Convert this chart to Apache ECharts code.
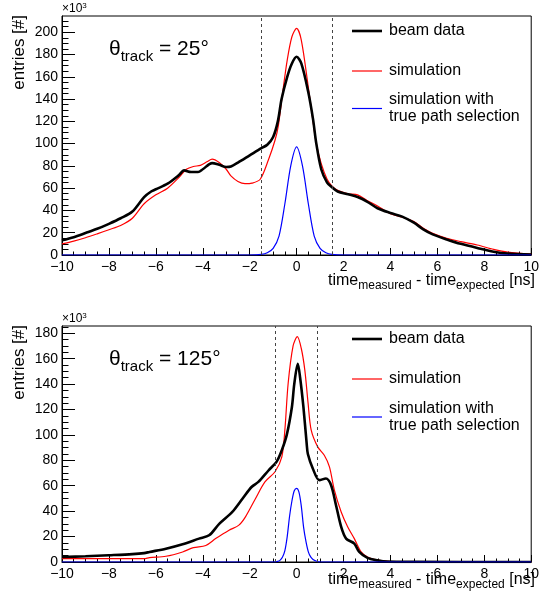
<!DOCTYPE html>
<html>
<head>
<meta charset="utf-8">
<script src="https://cdn.jsdelivr.net/npm/echarts@6/dist/echarts.min.js"></script>
<style>
  html, body { margin: 0; padding: 0; background: #fff; }
  #main { width: 542px; height: 601px; }
</style>
</head>
<body>
<div id="main"></div>
<script>
const FONT = '"Liberation Sans", Arial, Helvetica, sans-serif';

// x ticks (ns)
const xTicks = [-10, -8, -6, -4, -2, 0, 2, 4, 6, 8, 10];
// y tick labels (x10^3 entries)
const yTicksTop = [0, 20, 40, 60, 80, 100, 120, 140, 160, 180, 200];
const yTicksBot = [0, 20, 40, 60, 80, 100, 120, 140, 160, 180];
const yMaxTop = 214.6;
const yMaxBot = 185.7;

// cut window (dashed lines)
const cutTop = [-1.5, 1.5];
const cutBot = [-0.9, 0.88];

// theta_track = 25 deg
const beamTop = [[-10,13.2],[-9.5,16],[-9,19.7],[-8.5,23.5],[-8,28],[-7.5,33],[-7,39],[-6.5,52],[-6.2,57],[-6,59],
  [-5.5,64],[-5,72],[-4.8,76],[-4.5,74.5],[-4.2,74.5],[-4,77],[-3.6,82.5],[-3.3,81],[-3,79],[-2.8,79.5],
  [-2.5,83],[-2,89.5],[-1.5,96],[-1.25,99],[-1,106],[-0.8,120],[-0.64,140],[-0.4,160],[-0.2,172],[0,178],
  [0.2,172],[0.49,147],[0.7,122],[0.84,100],[1.05,77],[1.3,65],[1.5,61],[1.75,57],[2.2,54.5],[2.6,52],
  [3,48],[3.45,42],[4,37.7],[4.5,34.5],[5,29],[5.4,23],[5.8,18.5],[6.4,14],[7,10],[7.7,6.3],
  [8.4,3],[9,1.3],[10,0.5]];
const simTop = [[-10,10],[-9.5,12.5],[-9,15.5],[-8.5,19],[-8,22.7],[-7.5,26.5],[-7,33],[-6.5,46],[-6,54],[-5.5,60],
  [-5,70],[-4.7,77],[-4.4,79.5],[-4.1,80.5],[-3.8,84],[-3.6,86],[-3.3,83],[-3,77],[-2.8,71],[-2.5,66],
  [-2.2,64],[-1.9,64.5],[-1.55,68],[-1.2,85.5],[-0.92,103],[-0.78,116],[-0.6,145],[-0.4,175],[-0.2,196],[0,203.5],
  [0.2,193],[0.49,152],[0.7,120],[0.84,100],[1.05,82],[1.3,68],[1.5,62],[1.75,58],[2.2,55],[2.6,54],
  [3,49],[3.45,44],[4,37],[4.5,34],[5,30],[5.4,24],[5.8,19.5],[6.4,15],[7,12],[7.7,9],
  [8.4,5],[9,2.5],[10,0.8]];
const truePathTop = [[-10,0],[-2,0],[-1.5,0.5],[-1.25,2],[-1,6],[-0.75,17],[-0.5,46],[-0.25,80],[0,97],
  [0.25,80],[0.5,46],[0.75,17],[1,6],[1.25,2],[1.5,0.5],[2,0],[10,0]];

// theta_track = 125 deg
const beamBot = [[-10,3.9],[-9,4.5],[-8,5.3],[-7,6.2],[-6.5,7],[-6.27,7.9],[-5.57,10.5],[-4.86,14],[-4.16,18.4],[-3.73,21],
  [-3.3,30],[-2.74,39.4],[-2.3,50],[-1.92,59],[-1.63,63],[-1.2,72],[-0.85,79],[-0.63,88],[-0.42,100],[-0.2,122],
  [-0.1,140],[0.05,156],[0.15,145],[0.29,122],[0.43,93],[0.48,85],[0.69,73.6],[0.97,64.4],[1.25,65.7],[1.47,60.4],
  [1.68,44.7],[1.9,27.6],[2.11,18.4],[2.46,14.5],[2.67,7.9],[3.02,3.2],[3.44,1.3],[3.87,0.3],[5,0.1],[10,0]];
const simBot = [[-10,2.6],[-8,2.6],[-6.5,2.6],[-6.27,3.4],[-5.57,4.5],[-4.86,7.9],[-4.4,11.3],[-3.87,13],[-3.45,18.4],[-2.88,25],
  [-2.46,29],[-2.18,35.5],[-1.75,50],[-1.35,63],[-0.92,71],[-0.63,82.7],[-0.5,104],[-0.36,140.6],[-0.15,170],[0.03,177.3],
  [0.2,168],[0.35,151],[0.49,124.8],[0.62,104],[0.9,90.6],[1.18,84],[1.4,74.9],[1.61,56.5],[1.9,39.4],[2.18,27.6],
  [2.46,18.4],[2.75,7.9],[3.02,3.9],[3.44,1.5],[4,0.4],[5,0.1],[10,0]];
const truePathBot = [[-10,0],[-1,0],[-0.8,0.5],[-0.7,1.5],[-0.6,4],[-0.5,9],[-0.4,20],[-0.3,36],[-0.2,48],[-0.1,56],[0,58],
  [0.1,55],[0.2,44],[0.3,27],[0.4,16],[0.5,8],[0.6,4],[0.7,2],[0.8,1],[0.9,0.3],[1,0],[10,0]];

const NAME_BEAM = 'beam data';
const NAME_SIM = 'simulation';
const NAME_TRUE = 'simulation with\ntrue path selection';

function minorsOf(majors, step, max) {
  const out = [];
  for (let v = 0; v <= max; v += step) {
    if (majors.indexOf(v) < 0) out.push(v);
  }
  return out;
}

function xAxisFor(i) {
  return {
    gridIndex: i, type: 'value', min: -10, max: 10, interval: 2,
    axisLine: { onZero: false, lineStyle: { color: '#000', width: 1 } },
    axisTick: { inside: true, length: 7, lineStyle: { color: '#000' }, customValues: xTicks },
    minorTick: { show: true, splitNumber: 4, length: 3.5, lineStyle: { color: '#000' } },
    splitLine: { show: false },
    axisLabel: {
      color: '#000', fontSize: 14, fontFamily: FONT, margin: 5, customValues: xTicks,
      formatter: v => String(v).replace('-', '\u2212')
    }
  };
}

function yAxesFor(i, majors, max) {
  return [{
    gridIndex: i, type: 'value', min: 0, max: max, interval: 20, position: 'left',
    axisLine: { show: true, onZero: false, lineStyle: { color: '#000', width: 1 } },
    axisTick: { inside: true, length: 13, lineStyle: { color: '#000' }, customValues: majors },
    splitLine: { show: false },
    axisLabel: { color: '#000', fontSize: 14, fontFamily: FONT, margin: 4, customValues: majors }
  }, {
    gridIndex: i, type: 'value', min: 0, max: max, interval: 5, position: 'left',
    axisLine: { show: false, onZero: false },
    axisTick: { inside: true, length: 6.5, lineStyle: { color: '#000' }, customValues: minorsOf(majors, 5, max) },
    splitLine: { show: false },
    axisLabel: { show: false }
  }];
}

function seriesFor(i, beam, sim, truePath, cut) {
  const base = { type: 'line', xAxisIndex: i, yAxisIndex: i * 2, showSymbol: false, symbol: 'none',
    smooth: 0.3, animation: false, silent: true };
  return [
    Object.assign({}, base, { name: NAME_SIM, data: sim, color: '#ff0000',
      lineStyle: { color: '#ff0000', width: 1.2 } }),
    Object.assign({}, base, { name: NAME_BEAM, data: beam, color: '#000000',
      lineStyle: { color: '#000000', width: 2.6 },
      markLine: {
        silent: true, symbol: ['none', 'none'], label: { show: false }, animation: false,
        lineStyle: { type: [3, 3], color: '#444', width: 1 },
        data: cut.map(c => ({ xAxis: c }))
      } }),
    Object.assign({}, base, { name: NAME_TRUE, data: truePath, color: '#0000ff',
      lineStyle: { color: '#0000ff', width: 1.2 } })
  ];
}

function legendAt(name, top, h) {
  return {
    data: [name], left: 352, top: top, orient: 'vertical', padding: 0,
    icon: 'rect', itemWidth: 30, itemHeight: h, selectedMode: false,
    textStyle: { color: '#000', fontSize: 16, lineHeight: 17, fontFamily: FONT, padding: [0, 0, 0, 2] }
  };
}

function panelText(yTop, theta) {
  return [{
    type: 'text', x: 19, y: yTop - 1, rotation: Math.PI / 2,
    style: { text: 'entries [#]', fill: '#000', font: '17px ' + FONT, align: 'right', verticalAlign: 'middle' }
  }, {
    type: 'text', x: 62, y: yTop - 14,
    style: { text: '{a|\u00d710}{b|3}', fill: '#000', verticalAlign: 'top',
      rich: { a: { fontSize: 12, lineHeight: 14, fontFamily: FONT, fill: '#000' },
              b: { fontSize: 8, lineHeight: 9, verticalAlign: 'top', fontFamily: FONT, fill: '#000' } } }
  }, {
    type: 'text', x: 109, y: yTop + 18,
    style: { text: '{a|\u03b8}{b|track}{a| = ' + theta + '\u00b0}', fill: '#000', verticalAlign: 'top',
      rich: { a: { fontSize: 21, lineHeight: 30, fontFamily: FONT, fill: '#000' },
              b: { fontSize: 15, lineHeight: 12, verticalAlign: 'bottom', fontFamily: FONT, fill: '#000' } } }
  }];
}

function xTitle(yTop) {
  return {
    type: 'text', x: 535, y: yTop,
    style: { text: '{a|time}{b|measured}{a| - time}{b|expected}{a| [ns]}', fill: '#000',
      align: 'right', verticalAlign: 'top',
      rich: { a: { fontSize: 16, lineHeight: 22, fontFamily: FONT, fill: '#000' },
              b: { fontSize: 12, lineHeight: 10, verticalAlign: 'bottom', fontFamily: FONT, fill: '#000' } } }
  };
}

const chart = echarts.init(document.getElementById('main'), null, { renderer: 'canvas' });
const option = {
  backgroundColor: '#fff',
  animation: false,
  grid: [
    { left: 62, top: 16, width: 473, height: 239, show: true, borderColor: '#000', borderWidth: 1, backgroundColor: 'transparent' },
    { left: 62, top: 326, width: 473, height: 236, show: true, borderColor: '#000', borderWidth: 1, backgroundColor: 'transparent' }
  ],
  xAxis: [xAxisFor(0), xAxisFor(1)],
  yAxis: [...yAxesFor(0, yTicksTop, yMaxTop), ...yAxesFor(1, yTicksBot, yMaxBot)],
  legend: [
    legendAt(NAME_BEAM, 22.5, 2.6), legendAt(NAME_SIM, 62.5, 1.2), legendAt(NAME_TRUE, 91.5, 1.2),
    legendAt(NAME_BEAM, 330.5, 2.6), legendAt(NAME_SIM, 370.5, 1.2), legendAt(NAME_TRUE, 400, 1.2)
  ],
  series: [
    ...seriesFor(0, beamTop, simTop, truePathTop, cutTop),
    ...seriesFor(1, beamBot, simBot, truePathBot, cutBot)
  ],
  graphic: [
    ...panelText(16, 25), xTitle(270),
    ...panelText(326, 125), xTitle(569)
  ]
};
chart.setOption(option);
</script>
</body>
</html>
